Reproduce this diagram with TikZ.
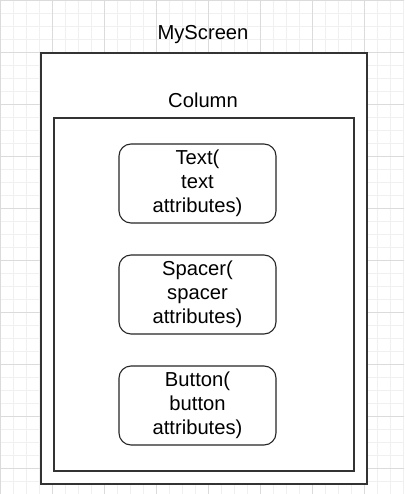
\documentclass[tikz,border=0pt]{standalone}
\usepackage{fontspec}
\setmainfont{Liberation Sans}
\usetikzlibrary{positioning}

\tikzset{
  frame/.style={draw=black!80, fill=white, line width=1.3pt, inner sep=0pt},
  widget/.style={draw=black!85, fill=white, line width=1.1pt, rounded corners=12pt,
    minimum width=157pt, minimum height=79pt, inner sep=0pt, align=center,
    font=\fontsize{20.2}{24}\selectfont},
  title/.style={font=\fontsize{20.2}{24}\selectfont}
}

\begin{document}
\begin{tikzpicture}[x=1pt, y=-1pt, node distance=30.9pt]
  \useasboundingbox (0,0) rectangle (404,494);
  % background grid
  \draw[black!6, line width=0.8pt, step=13pt] (0,0) grid (404,494);
  \draw[black!14, line width=0.8pt, step=52pt] (0,0) grid (404,494);

  \node[frame, minimum width=326pt, minimum height=431pt] (myscreen) at (204,268.5) {};
  \node[title] (myscreenlabel) at (203,35) {MyScreen};
  \node[frame, line width=1.1pt, minimum width=300pt, minimum height=353pt] (column) at (204,294.5) {};
  \node[title] (columnlabel) at (203,100) {Column};

  \node[widget] (textbox) at (197.5,183.5) {Text(\\text\\attributes)};
  \node[widget] (spacerbox) [below=of textbox] {Spacer(\\spacer\\attributes)};
  \node[widget] (buttonbox) [below=of spacerbox] {Button(\\button\\attributes)};
\end{tikzpicture}
\end{document}
